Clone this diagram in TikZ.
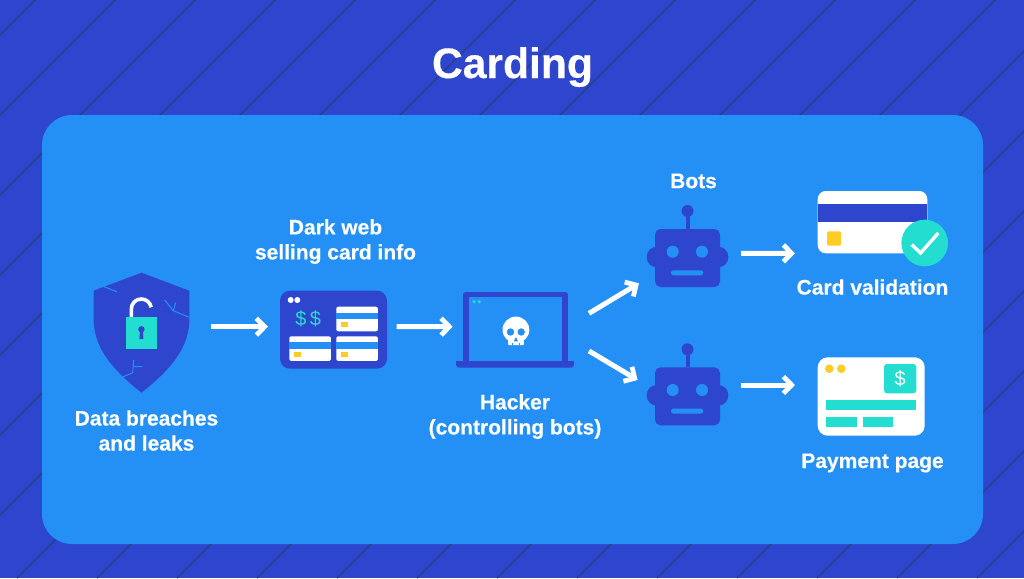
\documentclass[tikz,border=0pt]{standalone}
\usepackage{fontspec}
\setmainfont[BoldFeatures={FakeBold=0.35}]{Liberation Sans}
\usetikzlibrary{arrows.meta}
\definecolor{navy}{HTML}{2E46CE}
\definecolor{sky}{HTML}{2490F6}
\definecolor{hatch}{HTML}{2C3E90}
\definecolor{teal}{HTML}{22DDD0}
\definecolor{amber}{HTML}{FFCB25}
% open chevron head used on every connector
\pgfdeclarearrow{
  name=Chevron,
  setup code={
    \pgfarrowssettipend{0pt}
    \pgfarrowssetlineend{-3.5pt}
    \pgfarrowssetvisualbackend{-13pt}
    \pgfarrowssetbackend{-13pt}
  },
  drawing code={
    \pgfsetlinewidth{4.8pt}
    \pgfsetmiterjoin
    \pgfsetbuttcap
    \pgfpathmoveto{\pgfqpoint{-11.6pt}{8.4pt}}
    \pgfpathlineto{\pgfqpoint{-3.4pt}{0pt}}
    \pgfpathlineto{\pgfqpoint{-11.6pt}{-8.4pt}}
    \pgfusepathqstroke
  },
}
\tikzset{
  x=1pt,y=-1pt,
  iconbox/.style={inner sep=0pt,outer sep=0pt,minimum width=#1},
  flow/.style={white,line width=5pt,-{Chevron}},
  caption/.style={text=white,font=\fontsize{21}{25}\selectfont\bfseries,align=center,inner sep=0pt},
  crack/.style={sky,line width=1pt},
  paper/.style={fill=white,rounded corners=2pt},
  robot/.pic={
    % coordinates relative to the centre of the head's top edge
    \fill[navy] (-2,-18) rectangle (2,0);
    \fill[navy] (0,-18) circle[radius=6];
    \fill[navy,rounded corners=10pt] (-40.8,17.7) rectangle (40.8,38.3);
    \fill[navy,rounded corners=5.5pt] (-32.5,0) rectangle (32.5,58);
    \fill[sky] (-14.8,22.7) circle[radius=6];
    \fill[sky] (14.5,22.7) circle[radius=6];
    \fill[sky,rounded corners=2.4pt] (-16.5,41.3) rectangle (15.8,46.3);
  }
}
\begin{document}
\begin{tikzpicture}
\useasboundingbox (0,0) rectangle (1024,578);
\fill[navy] (0,0) rectangle (1024,578);
% diagonal hatching of the backdrop
\begin{scope}
  \clip (0,0) rectangle (1024,578);
  \foreach \k in {0,...,20}
    \draw[hatch,line width=1.5pt] ({35+80*\k},0) -- ({35+80*\k-578},578);
\end{scope}
\fill[sky,rounded corners=30pt] (42,115) rectangle (983,544);

\node[anchor=base,inner sep=0pt,text=white,font=\fontsize{42.6}{50}\selectfont\bfseries] (title) at (512.5,78) {Carding};

% shield with an open padlock
\node[iconbox=95.8pt,minimum height=120pt] (shield) at (141.4,333) {};
\fill[navy] (141.5,272.7) -- (189.3,290.7) -- (189.3,322)
  .. controls (188,352) and (165,374) .. (141.5,392.7)
  .. controls (118,374) and (95,352) .. (93.7,322) -- (93.5,290.7) -- cycle;
\draw[crack] (104,286.7) -- (116.7,291.7);
\draw[crack] (164.7,300) -- (173.3,310.7) -- (189.3,317.3) (173.3,310.7) -- (175.7,302.7);
\draw[crack] (123.3,376.7) -- (132.7,372.7) -- (133.7,360) (133.2,366.7) -- (142.3,366.7);
\draw[white,line width=3.6pt] (131.3,318) -- (131.3,309) arc[start angle=180,end angle=350,radius=10];
\fill[teal] (125.7,317) rectangle (157.3,349);
\fill[navy] (141.4,329.3) circle[radius=3.2];
\fill[navy] (140,330) -- (142.8,330) -- (143.4,339) -- (139.4,339) -- cycle;
\node[caption] (breachlabel) at (146.5,430.5) {Data breaches\\and leaks};

% dark web marketplace window
\node[iconbox=107pt,minimum height=78pt,fill=navy,rounded corners=10pt] (market) at (333.5,329.7) {};
\fill[white] (290.7,300) circle[radius=3] (297.3,300) circle[radius=3];
\node[inner sep=0pt,text=teal,font=\fontsize{20}{24}\selectfont] (dollars) at (308.3,318.3) {\$\hspace{3.4pt}\$};
\foreach \cx/\cy in {336.3/306.7,289.3/336.3,336.3/336.3} {
  \fill[paper] (\cx,\cy) rectangle ++(41.6,24.6);
  \fill[sky] (\cx,\cy+6) rectangle ++(41.6,6.6);
  \fill[amber] (\cx+4.7,\cy+15.5) rectangle ++(7,5);
}
\node[caption] (darklabel) at (335.5,241.5) {Dark web\\selling card info};

% laptop with skull on its screen
\node[iconbox=118pt,minimum height=75.7pt] (laptop) at (515,329.85) {};
\draw[navy,line width=5.6pt,line join=round] (465.8,362) -- (465.8,294.6) -- (565.2,294.6) -- (565.2,362);
\fill[navy,rounded corners=3pt] (456,361) rectangle (574,367.7);
\fill[navy] (456,361) rectangle (574,364);
\fill[teal] (474,301.7) circle[radius=1.8] (479.3,301.7) circle[radius=1.8];
% skull
\fill[white] (515.9,329.8) ellipse[x radius=13.4,y radius=13.2];
\fill[white,rounded corners=1pt] (508,335) rectangle (523.8,345.2);
\fill[sky] (510.5,332) circle[radius=3.7] (521.2,332) circle[radius=3.7];
\fill[sky] (515.9,337) -- (518,341.3) -- (513.8,341.3) -- cycle;
\draw[sky,line width=0.9pt] (512.4,342.6) -- (512.4,345.3) (519.4,342.6) -- (519.4,345.3);
\node[caption] (hackerlabel) at (515,416.5) {Hacker\\(controlling bots)};

% the two bots
\node[iconbox=81.4pt,minimum height=82pt] (botA) at (687.35,246) {};
\pic at (687.5,229) {robot};
\node[iconbox=81.4pt,minimum height=82pt] (botB) at (687.35,384.3) {};
\pic at (687.5,367.3) {robot};
\node[caption] (botslabel) at (693.5,181) {Bots};

% card being validated
\node[iconbox=109.6pt,minimum height=62.3pt,fill=white,rounded corners=8pt] (card) at (872.5,222.15) {};
\fill[navy] (817.7,204.3) rectangle (927.3,222.3);
\fill[amber,rounded corners=2pt] (827,231.3) rectangle (841,245.7);
\fill[teal] (924.7,243) circle[radius=23.3];
\draw[white,line width=3.4pt] (911.7,244.6) -- (920.6,253) -- (938.3,233);
\node[caption] (cardlabel) at (872.5,287) {Card validation};

% payment page window
\node[iconbox=107pt,minimum height=78.4pt,fill=white,rounded corners=10pt] (pay) at (871.2,396.5) {};
\fill[amber] (829.3,368.7) circle[radius=4.3] (841.3,368.7) circle[radius=4.3];
\fill[teal,rounded corners=3pt] (884,364) rectangle (916.3,393.3);
\node[inner sep=0pt,text=white,font=\fontsize{20}{24}\selectfont] (paydollar) at (900.2,379) {\$};
\fill[teal] (826,399.7) rectangle (916.3,410.3);
\fill[teal] (826,416.7) rectangle (856.7,427.3);
\fill[teal] (862.7,416.7) rectangle (893.3,427.3);
\node[caption] (paylabel) at (872.5,463) {Payment page};

% connectors
\draw[flow] ([shift={(21.4,-6.3)}]shield.east) -- ([shift={(-12,-3)}]market.west);
\draw[flow] ([shift={(9.7,-3)}]market.east) -- ([shift={(-3.3,-3.15)}]laptop.west);
\draw[flow] ([shift={(15,-16.5)}]laptop.east) -- ([shift={(-7.7,37.3)}]botA.west);
\draw[flow] ([shift={(15,21.1)}]laptop.east) -- ([shift={(-9,-4.3)}]botB.west);
\draw[flow] ([shift={(13,7.3)}]botA.east) -- ([shift={(-22.7,31.2)}]card.west);
\draw[flow] ([shift={(13,0.7)}]botB.east) -- ([shift={(-22.7,-11.5)}]pay.west);
\end{tikzpicture}
\end{document}
